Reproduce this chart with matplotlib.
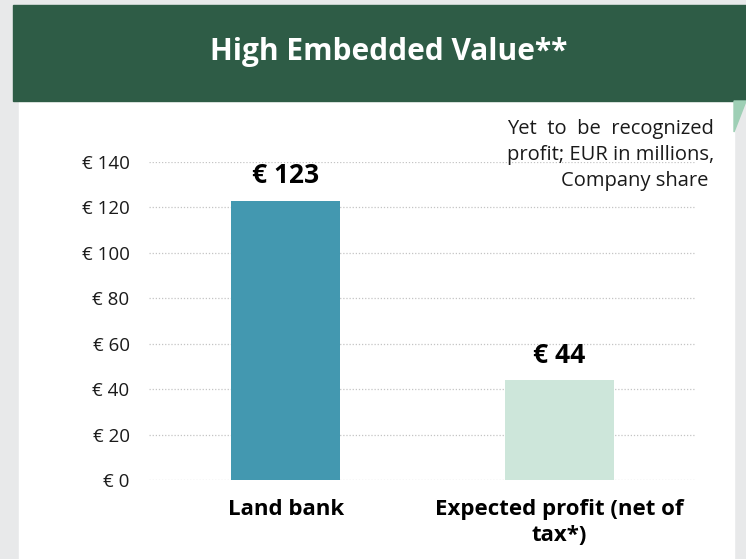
import matplotlib
matplotlib.use("Agg")
from matplotlib import pyplot as plt
from matplotlib.patches import Rectangle, Polygon

plt.rcParams['font.family'] = ['Open Sans', 'DejaVu Sans']

# chart data
categories = ["Land bank", "Expected profit (net of\ntax*)"]
values = [123, 44]
value_labels = ["€ 123", "€ 44"]
bar_colors = ["#4398B0", "#CDE6DA"]
yticks = [0, 20, 40, 60, 80, 100, 120, 140]
ytick_labels = ["€ " + str(t) for t in yticks]

title = "High Embedded Value**"
note = "Yet  to  be  recognized\nprofit; EUR in millions,\nCompany share "

W, H = 746, 559
fig = plt.figure(figsize=(W / 100, H / 100), dpi=100, facecolor="#E8E9EA")

# slide background pieces (pixel coords -> figure fraction)
def px(x0, y0, x1, y1):
	return (x0 / W, 1 - y1 / H), (x1 - x0) / W, (y1 - y0) / H

xy, w, h = px(19, 101, 734, 559)
fig.patches.append(Rectangle(xy, w, h, transform=fig.transFigure, color="white", zorder=-5))
xy, w, h = px(13, 5, 746, 101)
fig.patches.append(Rectangle(xy, w, h, transform=fig.transFigure, color="#2E5C46", zorder=-4))
tri = [(734 / W, 1 - 101 / H), (746 / W, 1 - 101 / H), (734 / W, 1 - 132 / H)]
fig.patches.append(Polygon(tri, closed=True, transform=fig.transFigure, color="#9ECFB5", zorder=-4))

fig.text(389 / W, 1 - 52 / H, title, color="white", fontsize=21.5, fontweight="bold",
	ha="center", va="center", zorder=3)

fig.text(714 / W, 1 - 119 / H, note, fontsize=14.5, color="#1a1a1a",
	ha="right", va="top", multialignment="right", linespacing=1.4)

ax = fig.add_axes([149 / W, 1 - 480 / H, (696 - 149) / W, (480 - 162) / H])
ax.set_facecolor("none")

xpos = list(range(len(categories)))
ax.bar(xpos, values, width=0.4, color=bar_colors, zorder=2)
for x, v, lab in zip(xpos, values, value_labels):
	ax.text(x, v + 11, lab, ha="center", va="center", fontsize=19, fontweight="bold", color="black")

ax.set_xlim(-0.5, 1.5)
ax.set_ylim(0, 140)
ax.set_yticks(yticks)
ax.set_yticklabels(ytick_labels, fontsize=13.5, color="#1a1a1a")
ax.set_xticks(xpos)
ax.set_xticklabels(categories, fontsize=16, fontweight="bold", color="black", linespacing=1.3)
ax.tick_params(axis="both", length=0)
ax.tick_params(axis="y", pad=14)
ax.tick_params(axis="x", pad=14)
ax.grid(axis="y", linestyle=(0, (1, 1.5)), color="#C4C4C4", linewidth=0.9, zorder=1)
for s in ax.spines.values():
	s.set_visible(False)

fig.savefig("out.png", dpi=100, facecolor=fig.get_facecolor())
plt.close()
